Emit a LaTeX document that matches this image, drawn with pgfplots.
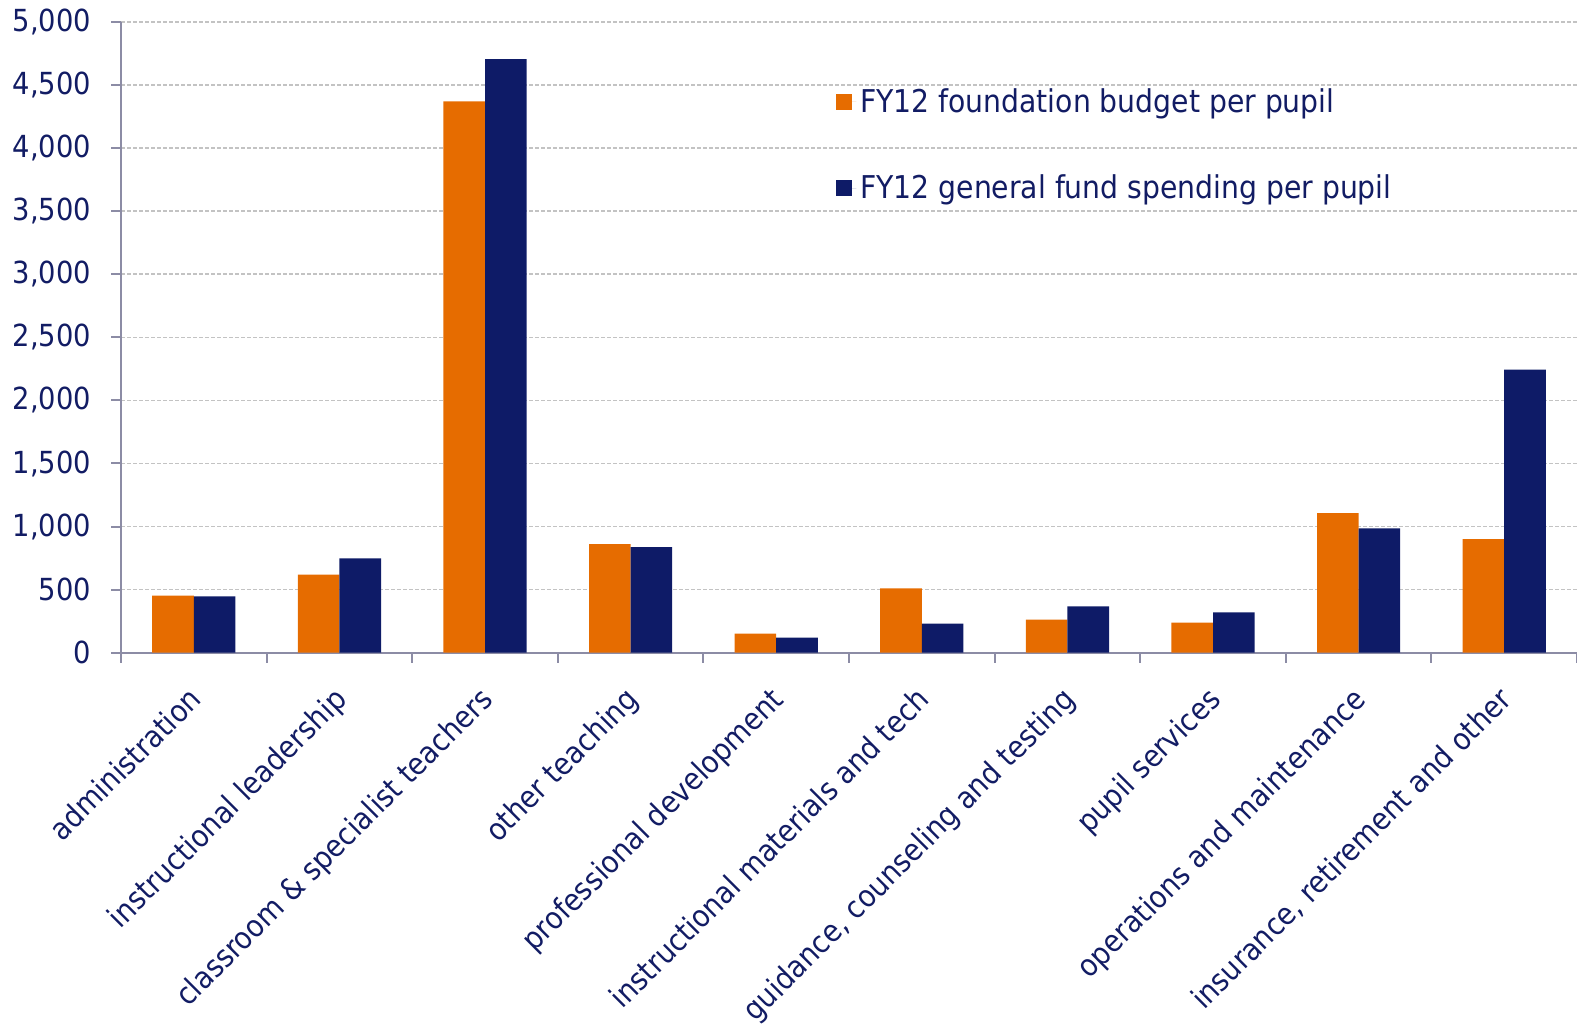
\documentclass[border=0pt]{standalone}
\usepackage{fontspec}
\setmainfont{DejaVu Sans Condensed}
\usepackage{pgfplots}
\pgfplotsset{compat=1.18}
\definecolor{cOr}{RGB}{230,108,0}
\definecolor{cNv}{RGB}{14,27,103}
\definecolor{cTx}{RGB}{18,28,100}
\definecolor{cAx}{RGB}{140,140,165}
\definecolor{cGr}{RGB}{195,195,195}
\begin{document}
\begin{tikzpicture}
\begin{axis}[
  at={(60.5pt,187.15pt)}, anchor=south west,
  scale only axis, width=728pt, height=315.35pt,
  xmin=-0.5, xmax=9.5, ymin=0, ymax=5000,
  ybar=0pt, bar width=20.8pt,
  axis x line*=bottom, axis y line*=left,
  axis line style={cAx, line width=1pt},
  every outer x axis line/.append style={-}, every outer y axis line/.append style={-},
  xtick={0,1,2,3,4,5,6,7,8,9},
  minor xtick={-0.5,0.5,1.5,2.5,3.5,4.5,5.5,6.5,7.5,8.5,9.5},
  major x tick style={draw=none},
  minor x tick style={cAx, line width=1pt},
  minor tick length=5pt,
  ytick={0,500,...,5000},
  major y tick style={cAx, line width=1pt},
  major tick length=5pt,
  tick align=outside,
  ymajorgrids,
  major grid style={cGr, line width=0.8pt, dash pattern=on 2pt off 1pt},
  /pgf/number format/assume math mode=true,
  /pgf/number format/1000 sep={,},
  scaled y ticks=false,
  yticklabel style={font=\fontsize{15.2}{18}\selectfont, text=cTx, xshift=-6.5pt},
  xticklabels={administration, instructional leadership, classroom \& specialist teachers, other teaching, professional development, instructional materials and tech, {guidance, counseling and testing}, pupil services, operations and maintenance, {insurance, retirement and other}},
  xticklabel style={font=\fontsize{15.2}{18}\selectfont, text=cTx, xshift=-3.5pt, rotate=45, anchor=north east, inner sep=0pt},
  xticklabel shift=11pt,
  legend style={at={(0.491,0.902)}, anchor=north west, draw=none, fill=none,
    font=\fontsize{15.7}{18}\selectfont, text=cTx, row sep=26pt, inner sep=0pt},
  legend cell align=left,
  legend image code/.code={\fill[#1] (0pt,-4pt) rectangle (8pt,4pt); \path (0pt,0pt) -- (10pt,0pt);},
]
\addplot[fill=cOr, draw=none] coordinates {(0,452) (1,618) (2,4370) (3,861) (4,152) (5,510) (6,263) (7,239) (8,1107) (9,901)};
\addplot[fill=cNv, draw=none] coordinates {(0,447) (1,748) (2,4705) (3,837) (4,120) (5,231) (6,367) (7,319) (8,986) (9,2244)};
\legend{FY12 foundation budget per pupil, FY12 general fund spending per pupil}
\end{axis}
\pgfresetboundingbox
\useasboundingbox (0,0) rectangle (788.5pt,513.5pt);
\end{tikzpicture}
\end{document}
